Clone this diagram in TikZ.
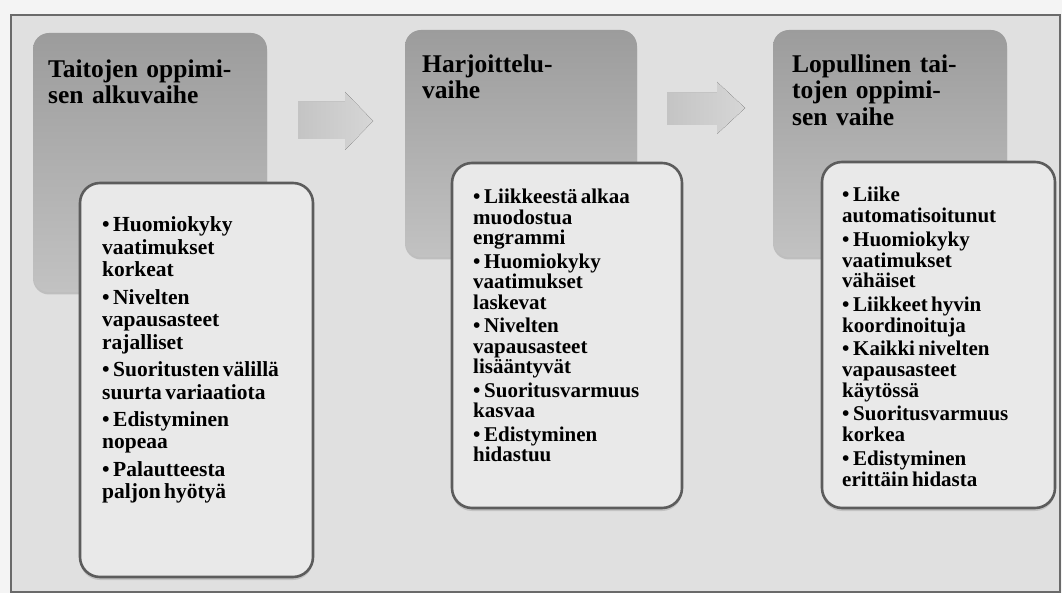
\documentclass[tikz,border=0pt]{standalone}
\usepackage{fontspec}
\setmainfont{Liberation Serif}
\usetikzlibrary{shadows}

\definecolor{pagebg}{HTML}{F4F4F4}
\definecolor{panelbg}{HTML}{E0E0E0}
\definecolor{framegray}{HTML}{6A6A6A}
\definecolor{headtop}{HTML}{9C9C9C}
\definecolor{headbot}{HTML}{C2C2C2}
\definecolor{cardfill}{HTML}{E9E9E9}
\definecolor{cardline}{HTML}{5C5C5C}
\definecolor{arrowa}{HTML}{C4C4C4}
\definecolor{arrowb}{HTML}{D6D6D6}

\newlength{\itemgap}
% one bulleted entry with hanging indent
\newcommand{\bul}[1]{\par\vspace{\itemgap}\hangindent=11pt\hangafter=1\noindent\makebox[11pt][l]{\textbullet}#1}
\newcommand{\firstbul}[1]{\noindent\hangindent=11pt\hangafter=1\makebox[11pt][l]{\textbullet}#1}

\tikzset{
  headbox/.style={rounded corners=16pt, top color=headtop, bottom color=headbot,
    draw=none, drop shadow={shadow xshift=0pt, shadow yshift=-2.5pt, opacity=0.35}},
  cardbox/.style={rounded corners=20pt, fill=cardfill, draw=cardline, line width=2.6pt,
    drop shadow={shadow xshift=0pt, shadow yshift=-3pt, opacity=0.3}},
  headtext/.style={anchor=base west, inner sep=0pt, text width=215pt, align=left,
    font=\fontsize{25.5}{26.5}\selectfont\bfseries},
  listtext/.style={anchor=base west, inner sep=0pt, text width=#1, align=left},
  flowarrow/.style={left color=arrowa, right color=arrowb, draw=none}
}

\begin{document}
\begin{tikzpicture}[x=1pt, y=-1pt]
\useasboundingbox (0,0) rectangle (1062,593);
\fill[pagebg] (0,0) rectangle (1062,593);
\filldraw[fill=panelbg, draw=framegray, line width=1.2pt] (11,15) rectangle (1060,592);

% header boxes
\path[headbox] (33,33) rectangle (267,292) coordinate (h1);
\path[headbox] (405,30) rectangle (637,257) coordinate (h2);
\path[headbox] (773,30) rectangle (1007,257) coordinate (h3);

\node[headtext] (t1) at (48,77.5) {Taitojen oppimi-\\sen alkuvaihe\par};
\node[headtext] (t2) at (422,72.5) {Harjoittelu-\\vaihe\par};
\node[headtext] (t3) at (792,72.5) {Lopullinen tai-\\tojen oppimi-\\sen vaihe\par};

% arrows between phases
\fill[flowarrow] (298,102) -- (345,102) -- (345,92) -- (373,121) -- (345,150) -- (345,139) -- (298,139) -- cycle;
\fill[flowarrow] (667,93) -- (717,93) -- (717,82) -- (745,108) -- (717,134) -- (717,125) -- (667,125) -- cycle;

% detail cards
\path[cardbox] (80,183) rectangle (313,577) coordinate (c1);
\path[cardbox] (452,163) rectangle (682,508) coordinate (c2);
\path[cardbox] (822,162) rectangle (1055,508) coordinate (c3);

\node[listtext=205pt] (l1) at (102,232) {\fontsize{21.5}{22.5}\selectfont\bfseries\setlength{\itemgap}{4.8pt}%
\firstbul{Huomiokyky\\vaatimukset\\korkeat}%
\bul{Nivelten\\vapausasteet\\rajalliset}%
\bul{Suoritusten välillä\\suurta variaatiota}%
\bul{Edistyminen\\nopeaa}%
\bul{Palautteesta\\paljon hyötyä}\par};

\node[listtext=205pt] (l2) at (473,204) {\fontsize{21}{20.5}\selectfont\bfseries\setlength{\itemgap}{3pt}%
\firstbul{Liikkeestä alkaa\\muodostua\\engrammi}%
\bul{Huomiokyky\\vaatimukset\\laskevat}%
\bul{Nivelten\\vapausasteet\\lisääntyvät}%
\bul{Suoritusvarmuus\\kasvaa}%
\bul{Edistyminen\\hidastuu}\par};

\node[listtext=205pt] (l3) at (842,202) {\fontsize{21}{20.7}\selectfont\bfseries\setlength{\itemgap}{3pt}%
\firstbul{Liike\\automatisoitunut}%
\bul{Huomiokyky\\vaatimukset\\vähäiset}%
\bul{Liikkeet hyvin\\koordinoituja}%
\bul{Kaikki nivelten\\vapausasteet\\käytössä}%
\bul{Suoritusvarmuus\\korkea}%
\bul{Edistyminen\\erittäin hidasta}\par};
\end{tikzpicture}
\end{document}
